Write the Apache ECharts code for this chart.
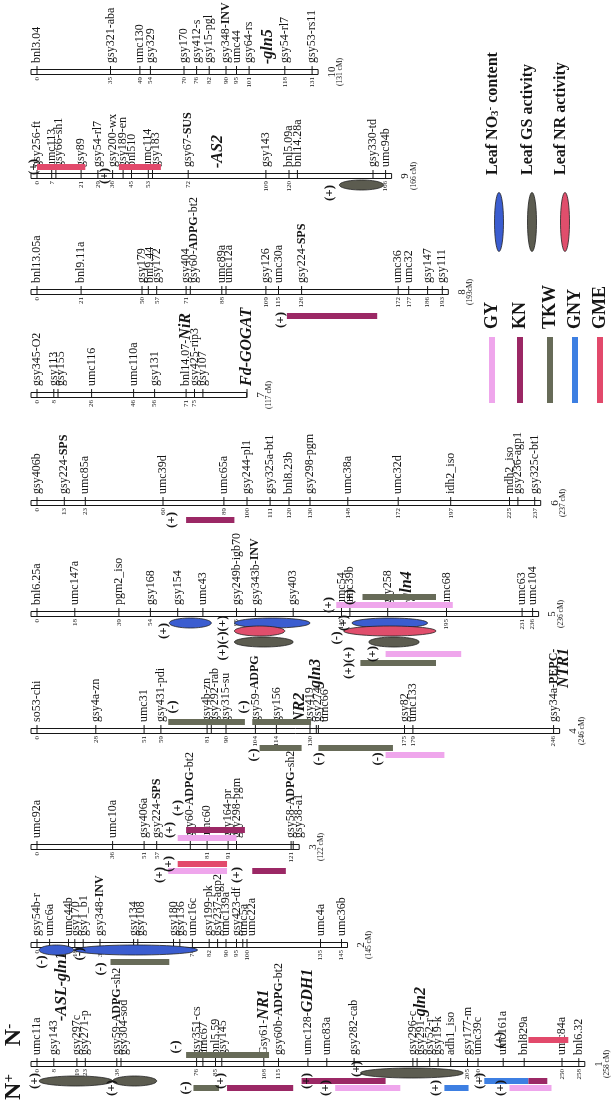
<!DOCTYPE html>
<html>
<head>
<meta charset="utf-8">
<script src="https://cdn.jsdelivr.net/npm/echarts@6.0.0/dist/echarts.min.js"></script>
<style>
html,body{margin:0;padding:0;background:#ffffff;}
#chart{width:616px;height:1100px;}
</style>
</head>
<body>
<div id="chart"></div>
<script>
// ================= DATA =================
const chromosomeNames = ['1','2','3','4','5','6','7','8','9','10'];
const chromosomeLengthLabels = ['(258 cM)','(145 cM)','(122 cM)','(246 cM)','(236 cM)','(237 cM)','(117 cM)','(193cM)','(166 cM)','(131 cM)'];
// end of the drawn linkage group, in cM
const chromosomeDrawnEnds = [258,145,122,246,236,237,97,193,166,131];

// markers: [position cM, marker name, printed position]
const chr1Markers = [[0,'umc11a','0'],[8,'gsy143','8'],[19,'gsy297c','19'],[23,'gsy271-p','23'],[38,'gsy59-ADPG-sh2','38'],[40,'gsy304-sod',''],[76,'gsy351-cs','76'],[79,'umc67',''],[85,'bnl5.59','85'],[88,'gsy145',''],[108,'Gsy61-NR1','108'],[115,'gsy60b-ADPG-bt2','115'],[129,'umc128-GDH1',''],[138,'umc83a',''],[151,'gsy282-cab',''],[179,'gsy296-c',''],[181,'gsy291-gln2',''],[187,'gsy52-r',''],[191,'gsy19-k',''],[197,'adh1_iso',''],[205,'gsy177-m','205'],[210,'umc39c','210'],[222,'umc161a',''],[232,'bnl829a',''],[250,'umc84a','250'],[258,'bnl6.32','258']];
const chr2Markers = [[0,'gsy54b-r','0'],[6,'umc6a','6'],[15,'umc44b',''],[18,'gsy170','18'],[22,'gsy1_b1',''],[30,'gsy348-INV','30'],[46,'gsy134',''],[48,'gsy108',''],[65,'gsy180',''],[68,'gsy136',''],[74,'umc16c','74'],[82,'gsy199-pk','82'],[86,'gsy237-agp2',''],[90,'umc139a','90'],[95,'gsy423-df','95'],[98,'umc5a',''],[100,'umc22a','100'],[135,'umc4a','135'],[145,'umc36b','145']];
const chr3Markers = [[0,'umc92a','0'],[36,'umc10a','36'],[51,'gsy406a','51'],[57,'gsy224-SPS','57'],[73,'gsy60-ADPG-bt2',''],[81,'umc60','81'],[91,'gsy164-pr','91'],[95,'gsy298-pgm',''],[121,'gsy58-ADPG-sh2','121'],[122,'gsy38-a1','']];
const chr4Markers = [[0,'so53-chi','0'],[28,'gsy4a-zn','28'],[51,'umc31','51'],[59,'gsy431-pdi','59'],[81,'gsy4b-zn','81'],[83,'gsy292-rab',''],[90,'gsy315-su','90'],[104,'gsy59-ADPG','104'],[114,'gsy156','114'],[130,'gsy419','130'],[133,'gsy274',''],[134,'umc66',''],[175,'gsy82','175'],[179,'umc133','179'],[246,'gsy34a-PEPC-','246']];
const chr5Markers = [[0,'bnl6.25a','0'],[18,'umc147a','18'],[39,'pgm2_iso','39'],[54,'gsy168','54'],[67,'gsy154',''],[79,'umc43',''],[95,'gsy249b-igb70','95'],[104,'gsy343b-INV',''],[122,'gsy403',''],[145,'umc54','145'],[149,'umc39b',''],[167,'gsy258',''],[195,'umc68','195'],[231,'umc63','231'],[236,'umc104','236']];
const chr6Markers = [[0,'gsy406b','0'],[13,'gsy224-SPS','13'],[23,'umc85a','23'],[60,'umc39d','60'],[89,'umc65a','89'],[100,'gsy244-pl1','100'],[111,'gsy325a-bt1','111'],[120,'bnl8.23b','120'],[130,'gsy298-pgm','130'],[148,'umc38a','148'],[172,'umc32d','172'],[197,'idh2_iso','197'],[225,'mdh2_iso','225'],[229,'gsy236-agp1',''],[237,'gsy325c-bt1','237']];
const chr7Markers = [[0,'gsy345-O2','0'],[8,'gsy113','8'],[10,'gsy155',''],[26,'umc116','26'],[46,'umc110a','46'],[56,'gsy131','56'],[71,'bnl14.07-NiR','71'],[75,'gsy425-rip3','75'],[79,'gsy107',''],[100,'Fd-GOGAT','']];
const chr8Markers = [[0,'bnl13.05a','0'],[21,'bnl9.11a','21'],[50,'gsy179','50'],[53,'bnl9.44',''],[57,'gsy172','57'],[71,'gsy404','71'],[73,'gsy60-ADPG-bt2',''],[88,'umc89a','88'],[90,'umc12a',''],[109,'gsy126','109'],[115,'umc30a','115'],[126,'gsy224-SPS','126'],[172,'umc36','172'],[177,'umc32','177'],[186,'gsy147','186'],[193,'gsy111','193']];
const chr9Markers = [[0,'gsy256-ft','0'],[7,'umc113','7'],[9,'gsy66-sh1',''],[21,'gsy89','21'],[29,'gsy54-rl7','29'],[36,'gsy200-wx','36'],[41,'gsy189-en',''],[45,'bnl510','45'],[53,'umc114','53'],[55,'gsy183',''],[72,'gsy67-SUS','72'],[109,'gsy143','109'],[120,'bnl5.09a','120'],[124,'bnl14.28a',''],[160,'gsy330-td',''],[166,'umc94b','166']];
const chr10Markers = [[0,'bnl3.04','0'],[35,'gsy321-aba','35'],[49,'umc130','49'],[54,'gsy329','54'],[70,'gsy170','70'],[76,'gsy412-s','76'],[82,'gsy15-pgl','82'],[90,'gsy348-INV','90'],[95,'umc44','95'],[101,'gsy64-rs','101'],[118,'gsy54-rl7','118'],[131,'gsy53-rs11','131']];

// candidate genes written beside the markers: [chromosome, position cM, label tier, name]
const candidateGenes = [['10',110,0,'-gln5'],['9',86,0,'-AS2'],['5',176,0,'-gln4'],['4',125,0,'NR2'],['4',133,1,'gln3'],['4',251,1,'NTR1'],['1',12,1,'-ASL-gln1']];

// agronomic QTL bars: [chromosome, trait, start cM, end cM, lane]
const qtlBars = [
 ['9','GME',0,23,-1],['9','GME',39,59,-1],
 ['8','KN',119,162,4],
 ['6','KN',71,94,3],
 ['5','TKW',155,190,-2],['5','GY',142.5,198,-1],['5','GY',166,202,6],['5','TKW',154,190,7],
 ['4','TKW',62.5,99,-1],['4','TKW',102.5,130.5,-1],['4','TKW',106,126,3],['4','TKW',134,169.5,3],['4','GY',166,194,4],
 ['3','KN',71,99,-2],['3','GY',67,95,-1],['3','GME',67,90.5,3],['3','GY',62.5,90.5,4],['3','KN',102.5,118.5,4],
 ['2','TKW',35,63,3],
 ['1','TKW',71,110.5,-1],['1','GME',234,253,-3],['1','TKW',74.5,86.7,4],['1','KN',90.5,122,4],['1','KN',126,166,3],['1','GY',142,173,4],['1','GNY',194,205.5,4],['1','GNY',213,234,3],['1','KN',234,243,3],['1','GY',225,245,4]
];

// physiological QTL ellipses: [chromosome, trait, start cM, end cM, lane]
const qtlEllipses = [
 ['9','GS',144,165,2],
 ['5','NO3',63,83,2],['5','NO3',94,130,2],['5','NR',94,118,3],['5','GS',94,122,5],
 ['5','NO3',150,186,2],['5','NR',146,190,3],['5','GS',158,182,5],
 ['2','NO3',1,17.5,1],['2','NO3',17.5,76.5,1],
 ['1','GS',1,36,3],['1','GS',36,57,3],['1','GS',154,203,2]
];

// effect signs: [chromosome, position cM, lane, sign]
const effectSigns = [
 ['9',-1.5,-1,'(+)'],['9',32,0,'(+)'],['9',139.5,3,'(+)'],
 ['8',116,5,'(+)'],
 ['6',64,3,'(+)'],
 ['5',149,-2,'(+)'],['5',139,-1,'(+)'],['5',60.5,3,'(+)'],['5',88.5,4,'(+)(-)(+)'],['5',146,2,'(+)'],['5',142.5,4,'(-)'],['5',148.5,7,'(+)(+)'],['5',160,6,'(+)'],
 ['4',64.5,-3,'(-)'],['4',98.5,-3,'(-)'],['4',103,4,'(-)'],['4',134,5,'(-)'],['4',162,5,'(-)'],
 ['3',63,-2,'(+)'],['3',67,-5,'(+)'],['3',62.5,3,'(+)'],['3',58.5,5,'(+)'],['3',95,5,'(+)'],
 ['2',2,3,'(-)'],['2',20.5,2,'(-)'],['2',30.5,4,'(-)'],
 ['1',66,-2,'(-)'],['1',220.5,-3,'(+)'],['1',-1,3,'(+)'],['1',35.5,4,'(+)'],['1',71,4,'(-)'],['1',87.5,3,'(+)'],['1',128.5,3,'(+)'],['1',152,1,'(+)'],['1',137.5,4,'(+)'],['1',190,4,'(+)'],['1',211,3,'(+)'],['1',221,4,'(+)']
];

const legendMeasures = ['NO3','GS','NR'];
const legendMeasureTexts = ['Leaf NO3- content','Leaf GS activity','Leaf NR activity'];
const legendTraits = ['GY','KN','TKW','GNY','GME'];

// ================= LAYOUT & STYLE =================
const SERIF = '"Liberation Serif", "Times New Roman", serif';
const INK = '#161616';
const X0 = 37, PX = 2.1, XMIN = -10, XMAX = 275;
const BAR_Y = {'1':1064,'2':945,'3':847,'4':731,'5':614,'6':503,'7':395,'8':292,'9':176,'10':72};
const LANE = {'-5':-39,'-4':-31,'-3':-24,'-2':-17,'-1':-9,'0':0,'1':5,'2':9,'3':17,'4':24,'5':28,'6':40,'7':49};
const GENE_TIER = {'0':-8,'1':-43};
const TRAIT_COLORS = {GY:'#efa6ec', KN:'#9b2865', TKW:'#676b58', GNY:'#3d7fe2', GME:'#e2496b'};
const ELLIPSE_COLORS = {NO3:'#3b5dd0', GS:'#5c5c50', NR:'#e04e6c'};
const BOLD_PARTS = ['ADPG','INV','SPS','SUS','PEPC-'];
const GENE_PARTS = ['Fd-GOGAT','NiR','NR1','GDH1','gln2'];
const LABEL_RICH = {
  b:{fontFamily:SERIF,fontSize:12,fontWeight:'bold',fontStyle:'normal',fill:INK},
  bi:{fontFamily:SERIF,fontSize:16,fontWeight:'bold',fontStyle:'italic',fill:INK}
};

function markup(name){
  for (const g of GENE_PARTS){ if (name.endsWith(g)) return name.slice(0, name.length-g.length) + '{bi|' + g + '}'; }
  for (const b of BOLD_PARTS){ const k = name.indexOf(b); if (k >= 0) return name.slice(0,k) + '{b|' + b + '}' + name.slice(k+b.length); }
  return name;
}
function rt(x, y, text, o){
  return {type:'text', x:x, y:y, rotation:Math.PI/2, silent:true,
    style:{text:text, fill:o.fill||INK, fontFamily:SERIF, fontSize:o.size, fontWeight:o.weight||'normal',
      fontStyle:o.italic?'italic':'normal', textAlign:o.align||'left', textVerticalAlign:'middle', rich:o.rich||{}}};
}
function spread(positions, gapCm){
  const out = []; let prev = -1e9;
  positions.forEach(p => { const q = Math.max(p, prev + gapCm); out.push(q); prev = q; });
  return out;
}
function ellipsePts(cx, cy, rx, ry){
  const pts = [];
  for (let k = 0; k < 48; k++){ const a = k/48*Math.PI*2; pts.push([cx + rx*Math.cos(a), cy + ry*Math.sin(a)]); }
  return pts;
}

const markerLists = {'1':chr1Markers,'2':chr2Markers,'3':chr3Markers,'4':chr4Markers,'5':chr5Markers,'6':chr6Markers,'7':chr7Markers,'8':chr8Markers,'9':chr9Markers,'10':chr10Markers};

const grids = [], xAxes = [], yAxes = [], series = [];
chromosomeNames.forEach((c, i) => {
  grids.push({left: X0 + XMIN*PX, width: (XMAX-XMIN)*PX, top: BAR_Y[c]-1, height: 2});
  xAxes.push({type:'value', gridIndex:i, min:XMIN, max:XMAX, show:false});
  yAxes.push({type:'value', gridIndex:i, min:-1, max:1, show:false});
  const base = {type:'custom', xAxisIndex:i, yAxisIndex:i, silent:true, animation:false, clip:false};

  // linkage group bar + name
  series.push(Object.assign({}, base, {z:2, data:[[0, chromosomeDrawnEnds[i]]],
    renderItem:(p, api) => {
      const a = api.coord([api.value(0), 0]), b = api.coord([api.value(1), 0]);
      const y = a[1];
      return {type:'group', children:[
        {type:'rect', shape:{x:a[0]-6, y:y-2.5, width:b[0]-a[0]+12, height:5}, style:{fill:'#ffffff', stroke:INK, lineWidth:1}},
        rt(b[0]+20, y, c, {size:11, align:'center'}),
        rt(b[0]+28, y, chromosomeLengthLabels[i], {size:7.5, align:'center'})
      ]};
    }}));

  // markers
  const mk = markerLists[c];
  const lab = spread(mk.map(m => m[0]), 7.5/PX);
  series.push(Object.assign({}, base, {z:3, data: mk.map((m, k) => [m[0], lab[k]]),
    renderItem:(p, api) => {
      const t = api.coord([api.value(0), 0]), l = api.coord([api.value(1), 0]);
      const y = t[1], m = mk[p.dataIndex];
      const ch = [
        {type:'line', shape:{x1:t[0], y1:y-6, x2:t[0], y2:y+2.5}, style:{stroke:INK, lineWidth:1}},
        rt(l[0], y-9, markup(m[1]), {size:12, align:'left', rich:LABEL_RICH})
      ];
      if (m[2]) ch.push(rt(t[0], y+5, m[2], {size:7, align:'right'}));
      return {type:'group', children:ch};
    }}));

  // candidate genes
  const gn = candidateGenes.filter(g => g[0] === c);
  if (gn.length) series.push(Object.assign({}, base, {z:3, data: gn.map(g => [g[1], g[2]]),
    renderItem:(p, api) => {
      const t = api.coord([api.value(0), 0]);
      return rt(t[0], t[1] + GENE_TIER[api.value(1)], gn[p.dataIndex][3], {size:16, weight:'bold', italic:true, align:'left'});
    }}));

  // QTL bars
  const qb = qtlBars.filter(q => q[0] === c);
  if (qb.length) series.push(Object.assign({}, base, {z:4, data: qb.map(q => [q[2], q[3], q[4]]),
    renderItem:(p, api) => {
      const a = api.coord([api.value(0), 0]), b = api.coord([api.value(1), 0]);
      const yc = a[1] + LANE[api.value(2)];
      return {type:'rect', shape:{x:a[0], y:yc-3, width:b[0]-a[0], height:6}, style:{fill:TRAIT_COLORS[qb[p.dataIndex][1]]}};
    }}));

  // QTL ellipses
  const qe = qtlEllipses.filter(q => q[0] === c);
  if (qe.length) series.push(Object.assign({}, base, {z:5, data: qe.map(q => [q[2], q[3], q[4]]),
    renderItem:(p, api) => {
      const a = api.coord([api.value(0), 0]), b = api.coord([api.value(1), 0]);
      const cy = a[1] + LANE[api.value(2)];
      return {type:'polygon', shape:{points: ellipsePts((a[0]+b[0])/2, cy, (b[0]-a[0])/2, 5)},
        style:{fill:ELLIPSE_COLORS[qe[p.dataIndex][1]], stroke:'#222222', lineWidth:0.8}};
    }}));

  // signs
  const sg = effectSigns.filter(s => s[0] === c);
  if (sg.length) series.push(Object.assign({}, base, {z:6, data: sg.map(s => [s[1], s[2]]),
    renderItem:(p, api) => {
      const t = api.coord([api.value(0), 0]);
      return rt(t[0], t[1] + LANE[api.value(1)], sg[p.dataIndex][3], {size:13, weight:'bold', align:'center'});
    }}));
});

// ---------- legend & side annotations ----------
const graphics = [];
const MEAS_TEXT_X = [493, 528, 561], MEAS_ELL_X = [499, 532, 565];
const legRich = {
  sub:{fontFamily:SERIF,fontSize:11,fontWeight:'bold',fill:INK,verticalAlign:'bottom'},
  sup:{fontFamily:SERIF,fontSize:11,fontWeight:'bold',fill:INK,verticalAlign:'top'}
};
legendMeasures.forEach((m, k) => {
  const txt = legendMeasureTexts[k].replace('NO3-', 'NO{sub|3}{sup|-}');
  graphics.push({type:'text', x:MEAS_TEXT_X[k], y:175, rotation:Math.PI/2, silent:true,
    style:{text:txt, fontFamily:SERIF, fontSize:16, fontWeight:'bold', fill:INK, textAlign:'left', textVerticalAlign:'middle', rich:legRich}});
  graphics.push({type:'polygon', silent:true, shape:{points: ellipsePts(MEAS_ELL_X[k], 222, 4.5, 29.5)},
    style:{fill:ELLIPSE_COLORS[m], stroke:'#222222', lineWidth:0.8}});
});
const TRAIT_X = [492, 520, 550, 575, 600];
legendTraits.forEach((t, k) => {
  graphics.push({type:'text', x:TRAIT_X[k], y:329, rotation:Math.PI/2, silent:true,
    style:{text:t, fontFamily:SERIF, fontSize:18, fontWeight:'bold', fill:INK, textAlign:'left', textVerticalAlign:'middle'}});
  graphics.push({type:'rect', silent:true, shape:{x:TRAIT_X[k]-3, y:337, width:6, height:66}, style:{fill:TRAIT_COLORS[t]}});
});
const nRich = {n:{fontFamily:SERIF,fontSize:24,fontWeight:'bold',fill:INK}, s:{fontFamily:SERIF,fontSize:15,fontWeight:'bold',fill:INK,verticalAlign:'top'}};
graphics.push({type:'text', x:14, y:1035, rotation:Math.PI/2, silent:true,
  style:{text:'{n|N}{s|-}', fontFamily:SERIF, fontSize:24, fontWeight:'bold', fill:INK, textAlign:'center', textVerticalAlign:'middle', rich:nRich}});
graphics.push({type:'text', x:14, y:1087, rotation:Math.PI/2, silent:true,
  style:{text:'{n|N}{s|+}', fontFamily:SERIF, fontSize:24, fontWeight:'bold', fill:INK, textAlign:'center', textVerticalAlign:'middle', rich:nRich}});

const chart = echarts.init(document.getElementById('chart'), null, {renderer:'canvas'});
chart.setOption({
  animation:false,
  backgroundColor:'#ffffff',
  grid:grids, xAxis:xAxes, yAxis:yAxes,
  series:series,
  graphic:{elements:graphics}
});
</script>
</body>
</html>
